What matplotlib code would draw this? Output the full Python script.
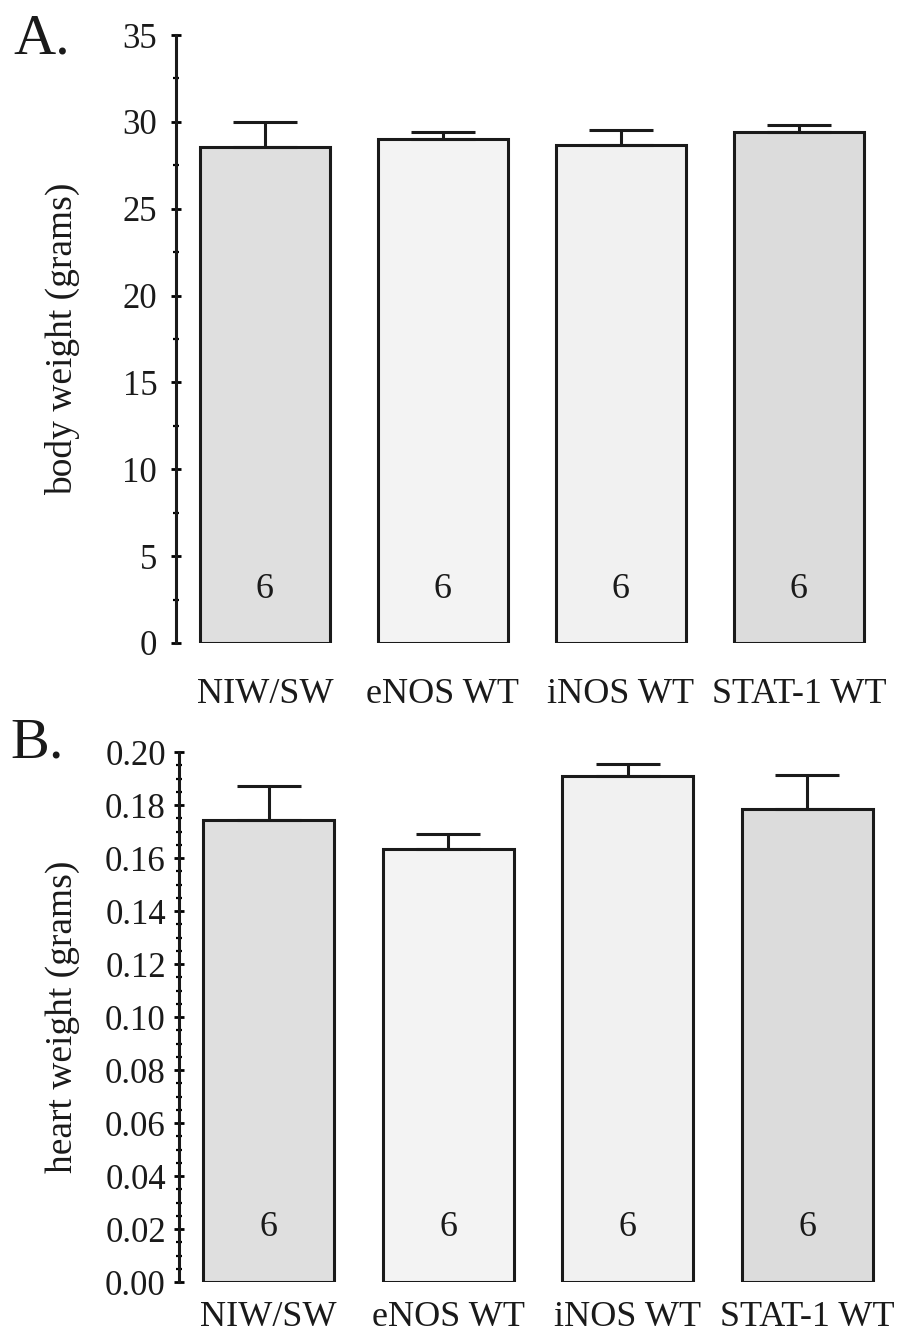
import matplotlib
matplotlib.use("Agg")
import matplotlib.pyplot as plt
from matplotlib.ticker import MultipleLocator, FormatStrFormatter

plt.rcParams['font.family'] = ['Liberation Serif', 'DejaVu Serif']

groups = ["NIW/SW", "eNOS WT", "iNOS WT", "STAT-1 WT"]
n_per_group = [6, 6, 6, 6]

body_weight = [28.55, 28.99, 28.68, 29.39]
body_weight_err = [1.45, 0.43, 0.87, 0.44]

heart_weight = [0.1742, 0.1633, 0.1908, 0.1785]
heart_weight_err = [0.0129, 0.0056, 0.0048, 0.0130]

bar_colors = ["#dfdfdf", "#f3f3f3", "#f1f1f1", "#dcdcdc"]

fig = plt.figure(figsize=(9.15, 13.37), dpi=100)
fig.patch.set_facecolor("white")


def draw_panel(ax, values, errors, ymax, major, minor, fmt, ylabel, n_y,
               xpad, ypad, label_x):
    x = list(range(len(groups)))
    ax.bar(x, values, width=0.73, color=bar_colors, edgecolor="#1a1a1a",
           linewidth=2.2, zorder=2)
    ax.errorbar(x, values, yerr=[[0] * len(errors), errors], fmt="none",
                ecolor="#1a1a1a", elinewidth=2.2, capsize=23, capthick=2.2,
                zorder=3)
    for xi, n in zip(x, n_per_group):
        ax.text(xi, n_y, str(n), ha="center", va="center", fontsize=26,
                color="#1a1a1a", zorder=4)
    ax.set_xlim(-0.5, 3.5)
    ax.set_ylim(0, ymax)
    ax.yaxis.set_major_locator(MultipleLocator(major))
    ax.yaxis.set_minor_locator(MultipleLocator(minor))
    ax.yaxis.set_major_formatter(FormatStrFormatter(fmt))
    ax.set_xticks(x)
    ax.set_xticklabels(groups, fontsize=26, color="#1a1a1a")
    ax.tick_params(axis="x", length=0, pad=xpad)
    ax.tick_params(axis="y", which="major", direction="inout", length=7,
                   width=2.0, labelsize=25, pad=ypad, labelcolor="#1a1a1a")
    ax.tick_params(axis="y", which="minor", direction="inout", length=4,
                   width=1.6)
    for side in ("top", "right", "bottom"):
        ax.spines[side].set_visible(False)
    ax.spines["left"].set_linewidth(2.2)
    ax.spines["left"].set_color("#1a1a1a")
    ax.set_ylabel(ylabel, fontsize=27, color="#1a1a1a")
    ax.yaxis.set_label_coords(label_x, 0.5)
    ax.patch.set_alpha(0)


ax_a = fig.add_axes([0.1923, 0.5191, 0.778, 0.4547])
draw_panel(ax_a, body_weight, body_weight_err, 35, 5, 2.5, "%d",
           "body weight (grams)", 3.05, 25, 10, -0.1348)

ax_b = fig.add_axes([0.1956, 0.0411, 0.785, 0.3964])
draw_panel(ax_b, heart_weight, heart_weight_err, 0.20, 0.02, 0.005, "%.2f",
           "heart weight (grams)", 0.0206, 14, 6, -0.1379)

fig.text(13 / 915, 1 - 53 / 1337, "A.", fontsize=42, ha="left",
         va="baseline", color="#1a1a1a")
fig.text(10 / 915, 1 - 757 / 1337, "B.", fontsize=42, ha="left",
         va="baseline", color="#1a1a1a")

fig.savefig("out.png", dpi=100, facecolor="white")
